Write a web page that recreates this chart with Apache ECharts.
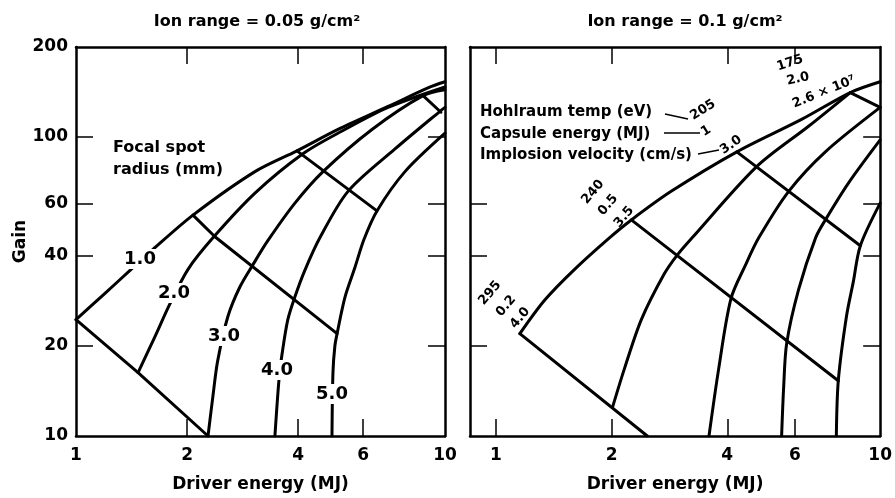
<!DOCTYPE html>
<html>
<head>
<meta charset="utf-8">
<script src="https://cdn.jsdelivr.net/npm/echarts@6/dist/echarts.min.js"></script>
<style>
  html, body { margin: 0; padding: 0; background: #fff; }
  #chart { width: 895px; height: 498px; }
</style>
</head>
<body>
<div id="chart"></div>
<script>
// Gain versus driver energy, log-log, for two ion ranges.

// Axis ticks and labels
const xLabels = [1, 2, 4, 6, 10];
const yLabels = [10, 20, 40, 60, 100, 200];
const yMarks = [20, 40, 60, 100];
const xMarksLeft = [2, 4, 6];
const xMarksRight = [1, 2, 4, 6];

// Ion range = 0.05 g/cm2 : one curve per focal spot radius (mm)
const spotRadii = ['1.0', '2.0', '3.0', '4.0', '5.0'];
const spot1 = [[1, 24.5], [1.184, 29.6], [1.401, 35.8], [1.617, 42.1], [2.075, 54.8], [3.055, 76.6], [3.97, 89.9], [5.13, 106], [7.01, 126.5], [8.99, 146], [10, 153]];
const spot2 = [[1.473, 16.3], [1.637, 21.5], [1.798, 27.7], [2.012, 36.1], [2.35, 46.0], [3.055, 64.9], [4.12, 87.9], [5.26, 104.7], [7.01, 125.6], [10, 147]];
const spot3 = [[2.279, 10], [2.35, 13.6], [2.42, 17.8], [2.58, 25.1], [2.78, 31.5], [3.02, 37.5], [3.31, 45.0], [3.92, 60.1], [4.67, 76.6], [6.34, 106], [8.72, 137.6], [10, 144]];
const spot4 = [[3.46, 10], [3.55, 15.5], [3.62, 18.9], [3.75, 24.5], [3.92, 29.2], [4.17, 35.8], [4.58, 46.0], [5.46, 65.8], [7.32, 91.2], [9.69, 121.9], [10, 125.6]];
const spot5 = [[4.94, 10], [4.97, 16.3], [5.03, 20.0], [5.10, 22.0], [5.36, 29.2], [5.70, 36.6], [6.03, 45.4], [6.54, 56.6], [7.79, 76.6], [10, 103]];
// cross lines joining the radius curves
const crossA = [[1, 24.5], [1.473, 16.3], [2.279, 10]];
const crossB = [[2.075, 54.8], [2.38, 46.4], [5.10, 22.0]];
const crossC = [[3.97, 89.9], [6.54, 56.6]];
const crossD = [[8.72, 137.6], [9.75, 121]];

// Ion range = 0.1 g/cm2
const rightCurve1 = [[1.154, 22.0], [1.340, 28.5], [1.602, 36.1], [1.974, 46.0], [2.251, 52.8], [2.858, 65.8], [4.236, 89.2], [6.243, 114.5], [8.36, 140.8], [10, 153]];
const rightCurve2 = [[2.01, 12.45], [2.16, 16.8], [2.39, 24.5], [2.74, 34.8], [2.96, 40.2], [3.24, 46.0], [4.77, 79.6], [6.51, 108.6], [8.36, 140.8]];
const rightCurve3 = [[3.585, 10], [3.80, 16.8], [4.09, 28.8], [4.47, 37.5], [4.83, 46.0], [5.78, 65.8], [7.20, 89.2], [10, 125.6]];
const rightCurve4 = [[5.54, 10], [5.61, 14.7], [5.71, 20.4], [6.13, 30.8], [6.79, 46.0], [7.20, 52.8], [8.26, 70.0], [10, 97.8]];
const rightCurve5 = [[7.69, 10], [7.78, 15.3], [8.17, 25.1], [8.51, 32.7], [8.88, 43.3], [10, 60.1]];
const rightCross1 = [[1.154, 22.0], [2.477, 10]];
const rightCross2 = [[2.251, 52.8], [7.78, 15.3]];
const rightCross3 = [[4.236, 89.2], [8.88, 43.3]];
const rightCross4 = [[8.36, 140.8], [10, 125.6]];

const FONT = '"DejaVu Sans", "Liberation Sans", sans-serif';
const INK = '#000';

const chart = echarts.init(document.getElementById('chart'), null, { renderer: 'canvas' });

const axisLineStyle = { show: true, onZero: false, lineStyle: { color: INK, width: 2.5 } };
const tickStyle = (vals) => ({ show: true, inside: true, length: 17, customValues: vals, lineStyle: { color: INK, width: 1.5 } });
const labelStyle = (vals, margin) => ({
  show: true, customValues: vals, margin: margin, color: INK,
  fontFamily: FONT, fontWeight: 'bold', fontSize: 17,
  formatter: (v) => String(Math.round(v))
});
const nameStyle = { color: INK, fontFamily: FONT, fontWeight: 'bold', fontSize: 17 };

function xAxes(gridIndex, min, marks) {
  const base = {
    type: 'log', logBase: 10, min: min, max: 10, gridIndex: gridIndex,
    splitLine: { show: false }, minorTick: { show: false }, minorSplitLine: { show: false },
    axisLine: axisLineStyle
  };
  return [
    Object.assign({}, base, {
      position: 'bottom', axisTick: tickStyle(marks), axisLabel: labelStyle(xLabels, 11),
      name: 'Driver energy (MJ)', nameLocation: 'middle', nameGap: 40, nameTextStyle: nameStyle
    }),
    Object.assign({}, base, { position: 'top', axisTick: tickStyle(marks), axisLabel: { show: false } })
  ];
}

function yAxes(gridIndex, leftMarks, withLabels) {
  const base = {
    type: 'log', logBase: 10, min: 10, max: 200, gridIndex: gridIndex,
    splitLine: { show: false }, minorTick: { show: false }, minorSplitLine: { show: false },
    axisLine: axisLineStyle
  };
  const left = Object.assign({}, base, {
    position: 'left', axisTick: tickStyle(leftMarks),
    axisLabel: withLabels ? labelStyle(yLabels, 8) : { show: false }
  });
  if (withLabels) {
    Object.assign(left, { name: 'Gain', nameLocation: 'middle', nameGap: 46, nameRotate: 90, nameTextStyle: nameStyle });
  }
  return [left, Object.assign({}, base, { position: 'right', axisTick: tickStyle(yMarks), axisLabel: { show: false } })];
}

function curve(data, xi, yi, smooth) {
  return {
    type: 'line', data: data, xAxisIndex: xi, yAxisIndex: yi,
    showSymbol: false, symbol: 'none', smooth: smooth ? 0.3 : false,
    lineStyle: { color: INK, width: 3, join: 'round', cap: 'round' }, silent: true, z: 3
  };
}

const series = [
  curve(spot1, 0, 0, true), curve(spot2, 0, 0, true), curve(spot3, 0, 0, true),
  curve(spot4, 0, 0, true), curve(spot5, 0, 0, true),
  curve(crossA, 0, 0, false), curve(crossB, 0, 0, false), curve(crossC, 0, 0, false), curve(crossD, 0, 0, false),
  curve(rightCurve1, 2, 2, true), curve(rightCurve2, 2, 2, true), curve(rightCurve3, 2, 2, true),
  curve(rightCurve4, 2, 2, true), curve(rightCurve5, 2, 2, true),
  curve(rightCross1, 2, 2, false), curve(rightCross2, 2, 2, false),
  curve(rightCross3, 2, 2, false), curve(rightCross4, 2, 2, false)
];

function text(str, x, y, size, opts) {
  opts = opts || {};
  return {
    type: 'text', x: x, y: y, rotation: (opts.rot || 0) * Math.PI / 180, z: 100,
    style: {
      text: str, fill: INK, align: opts.align || 'center', verticalAlign: 'middle',
      font: 'bold ' + size + 'px ' + FONT,
      backgroundColor: opts.bg || null, padding: opts.bg ? [1, 2] : 0
    }
  };
}
function leader(x1, y1, x2, y2) {
  return { type: 'line', z: 100, shape: { x1: x1, y1: y1, x2: x2, y2: y2 }, style: { stroke: INK, lineWidth: 1.5 } };
}

// radius labels sit on their curves, with a gap cut in the line
const spotLabelPos = [[140, 259], [174, 293], [224, 336], [277, 370], [332, 394]];

const graphics = [
  text('Ion range = 0.05 g/cm²', 257, 22, 16),
  text('Ion range = 0.1 g/cm²', 685, 22, 16),
  text('Focal spot', 113, 148, 16, { align: 'left' }),
  text('radius (mm)', 113, 170, 16, { align: 'left' }),
  text('Hohlraum temp (eV)', 480, 112, 15, { align: 'left' }),
  text('Capsule energy (MJ)', 480, 134, 15, { align: 'left' }),
  text('Implosion velocity (cm/s)', 480, 155, 15, { align: 'left' }),
  leader(665, 114, 688, 119),
  leader(664, 133, 700, 133),
  leader(698, 154, 719, 150),
  text('205', 703, 110, 13, { rot: 32 }),
  text('1', 706, 131, 13, { rot: 32 }),
  text('3.0', 731, 145, 13, { rot: 35 }),
  text('175', 790, 63, 13, { rot: 18 }),
  text('2.0', 798, 79, 13, { rot: 12 }),
  text('2.6 × 10⁷', 824, 92, 13, { rot: 22 }),
  text('240', 593, 192, 13, { rot: 50 }),
  text('0.5', 608, 205, 13, { rot: 50 }),
  text('3.5', 624, 217, 13, { rot: 50 }),
  text('295', 490, 293, 13, { rot: 50 }),
  text('0.2', 506, 306, 13, { rot: 50 }),
  text('4.0', 520, 318, 13, { rot: 50 })
];
spotRadii.forEach((r, i) => {
  graphics.push(text(r, spotLabelPos[i][0], spotLabelPos[i][1], 18, { bg: '#fff' }));
});

chart.setOption({
  animation: false,
  backgroundColor: '#fff',
  grid: [
    { left: 76, right: 450, top: 47, bottom: 57, containLabel: false },
    { left: 470, right: 13, top: 47, bottom: 57, containLabel: false }
  ],
  xAxis: xAxes(0, 1, xMarksLeft).concat(xAxes(1, 0.856, xMarksRight)),
  yAxis: yAxes(0, yMarks, true).concat(yAxes(1, [20, 40, 60], false)),
  series: series,
  graphic: graphics
});
</script>
</body>
</html>
